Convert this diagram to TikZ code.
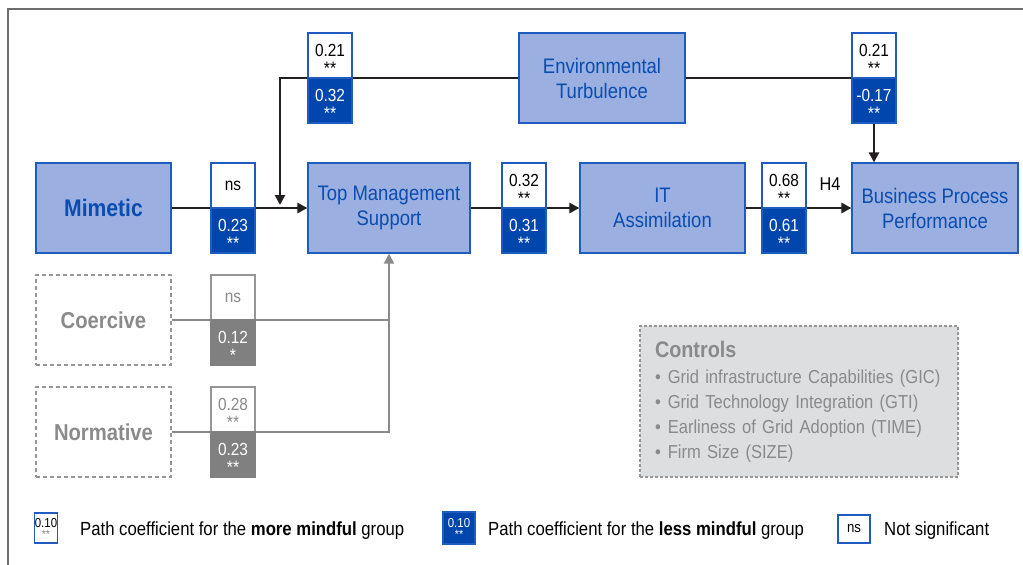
\documentclass[tikz,border=0pt]{standalone}
\usepackage{fontspec}
\setmainfont{Liberation Sans}[FakeStretch=0.88]
\usetikzlibrary{arrows.meta,backgrounds}

\definecolor{boxfill}{RGB}{155,176,224}
\definecolor{boxline}{RGB}{32,92,192}
\definecolor{boxtext}{RGB}{10,76,176}
\definecolor{coefblue}{RGB}{0,70,173}
\definecolor{ctlfill}{RGB}{221,222,224}
\definecolor{grayfill}{RGB}{128,128,128}
\definecolor{graytext}{RGB}{138,138,138}
\definecolor{dashgray}{RGB}{150,150,150}
\definecolor{linecol}{RGB}{35,31,32}
\definecolor{framecol}{RGB}{110,110,110}

% significance stars set on a second line under a coefficient
\newcommand\sigmark[1]{\rule{0pt}{19pt}\\[-1pt]{\fontsize{18}{18}\selectfont #1}}
% bullet for the list of controls
\newcommand\ctlitem{\textbullet\hspace{7pt}}

\begin{document}
\begin{tikzpicture}[x=1pt,y=-1pt,
  block/.style={draw=boxline, line width=1.2pt, fill=boxfill, text=boxtext,
    minimum height=90pt, inner sep=0pt, align=center,
    font=\fontsize{21}{25}\selectfont},
  srcbox/.style={block, minimum width=135pt, font=\fontsize{24}{25}\selectfont\bfseries},
  ghost/.style={draw=dashgray, dashed, dash pattern=on 4pt off 3pt, line width=1.2pt,
    text=graytext, minimum width=135pt, minimum height=90pt, inner sep=0pt,
    font=\fontsize{23}{25}\selectfont\bfseries},
  coefhi/.style={draw=boxline, line width=1.2pt, fill=white, text=black,
    minimum width=44pt, minimum height=45pt, inner sep=0pt, align=center,
    font=\fontsize{17.5}{19}\selectfont},
  coeflo/.style={coefhi, fill=coefblue, text=white},
  gcoefhi/.style={coefhi, draw=dashgray, text=graytext},
  gcoeflo/.style={coefhi, draw=grayfill, fill=grayfill, text=white},
  conn/.style={draw=linecol, line width=2.5pt},
  arr/.style={conn, -{Triangle[length=10pt,width=10pt]}},
  gconn/.style={draw=graytext, line width=2pt},
  garr/.style={gconn, -{Triangle[length=10pt,width=10pt]}},
  legtext/.style={anchor=west, inner sep=0pt, font=\fontsize{19}{20}\selectfont},
]
\useasboundingbox (0,0) rectangle (1023,565);

% outer frame (top and left edges only)
\draw[framecol, line width=1.5pt] (1023,9) -- (8,9) -- (8,565);

% constructs
\node[srcbox] (mim) at (103.5,208) {Mimetic};
\node[ghost]  (coe) at (103.5,320) {Coercive};
\node[ghost]  (nor) at (103.5,432) {Normative};
\node[block, minimum width=162pt] (tms) at (389,208) {Top Management\\Support};
\node[block, minimum width=165pt] (ita) at (662.5,208) {IT\\Assimilation};
\node[block, minimum width=166pt] (bpp) at (935,208) {Business Process\\Performance};
\node[block, minimum width=166pt] (env) at (602,78) {Environmental\\Turbulence};

% path coefficients (upper: more mindful, lower: less mindful)
\node[coefhi]  (k1a) at (233,185.5) {ns};
\node[coeflo]  (k1b) at (233,230.5) {0.23\sigmark{**}};
\node[gcoefhi] (k2a) at (233,297.5) {ns};
\node[gcoeflo] (k2b) at (233,342.5) {0.12\sigmark{*}};
\node[gcoefhi] (k3a) at (233,409.5) {0.28\sigmark{**}};
\node[gcoeflo] (k3b) at (233,454.5) {0.23\sigmark{**}};
\node[coefhi]  (k4a) at (524,185.5) {0.32\sigmark{**}};
\node[coeflo]  (k4b) at (524,230.5) {0.31\sigmark{**}};
\node[coefhi]  (k5a) at (784,185.5) {0.68\sigmark{**}};
\node[coeflo]  (k5b) at (784,230.5) {0.61\sigmark{**}};
\node[coefhi]  (k6a) at (330,55.5) {0.21\sigmark{**}};
\node[coeflo]  (k6b) at (330,100.5) {0.32\sigmark{**}};
\node[coefhi]  (k7a) at (874,55.5) {0.21\sigmark{**}};
\node[coeflo]  (k7b) at (874,100.5) {-0.17\sigmark{**}};

\node[font=\fontsize{18.5}{19}\selectfont, inner sep=0pt] (h4) at (830,184) {H4};

\coordinate (envjoin) at (280,205);

% connectors behind the boxes
\begin{pgfonlayer}{background}
  \draw[arr] (mim.east) -- (tms.west);
  \draw[arr] (tms.east) -- (ita.west);
  \draw[arr] (ita.east) -- (bpp.west);
  \draw[arr] (env.west) -| (envjoin);
  \draw[conn] (env.east) -| (k7b.south);
  \draw[arr] (k7b.south) -- (k7b.south |- bpp.north);
  \draw[gconn] (coe.east) -- (coe.east -| tms.south);
  \draw[garr] (nor.east) -| (tms.south);
\end{pgfonlayer}

% control variables
\node[draw=dashgray, dashed, dash pattern=on 3pt off 2pt, line width=1.2pt, fill=ctlfill,
  minimum width=318pt, minimum height=151pt, text width=292pt, inner xsep=13pt,
  align=left, text=graytext, font=\fontsize{18.8}{25}\selectfont] (ctl) at (799,401.5)
  {\hspace*{2pt}{\fontsize{22.5}{25}\selectfont\bfseries Controls}\\[1pt]
   \hspace*{2pt}\ctlitem Grid infrastructure Capabilities (GIC)\\
   \hspace*{2pt}\ctlitem Grid Technology Integration (GTI)\\
   \hspace*{2pt}\ctlitem Earliness of Grid Adoption (TIME)\\
   \hspace*{2pt}\ctlitem Firm Size (SIZE)};

% legend
\node[coefhi, minimum width=22pt, minimum height=30pt, font=\fontsize{13}{13}\selectfont]
  (lg1) at (46,528) {0.10\\[-2pt]{\color{graytext}\fontsize{12}{12}\selectfont **}};
\node[legtext] (lt1) at (80,531) {Path coefficient for the \textbf{more mindful} group};
\node[coeflo, minimum width=32pt, minimum height=32pt, font=\fontsize{13}{13}\selectfont]
  (lg2) at (459,528) {0.10\\[-2pt]{\fontsize{12}{12}\selectfont **}};
\node[legtext] (lt2) at (488,531) {Path coefficient for the \textbf{less mindful} group};
\node[coefhi, minimum width=32pt, minimum height=28pt, font=\fontsize{15}{15}\selectfont]
  (lg3) at (854,529) {ns};
\node[legtext] (lt3) at (884,531) {Not significant};
\end{tikzpicture}
\end{document}
